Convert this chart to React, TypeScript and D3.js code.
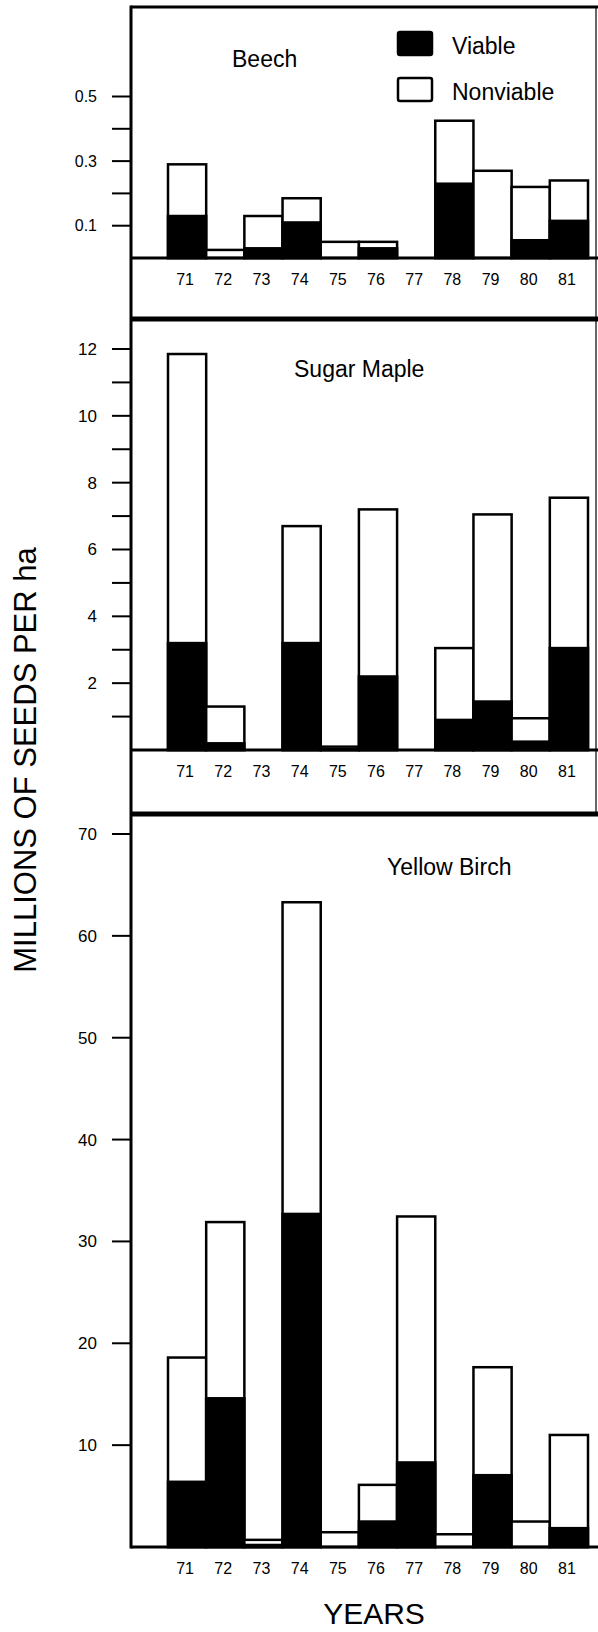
import React from 'react'
import * as d3 from 'd3'

// years on the x axis
const years = ["71", "72", "73", "74", "75", "76", "77", "78", "79", "80", "81"]

// millions of seeds per ha
const beechViable = [0.13, 0, 0.03, 0.11, 0, 0.03, 0, 0.23, 0, 0.055, 0.115]
const beechNonviable = [0.16, 0.025, 0.10, 0.075, 0.05, 0.02, 0, 0.195, 0.27, 0.165, 0.125]

const mapleViable = [3.2, 0.2, 0, 3.2, 0.03, 2.2, 0, 0.9, 1.45, 0.25, 3.05]
const mapleNonviable = [8.65, 1.1, 0, 3.5, 0.07, 5.0, 0, 2.15, 5.6, 0.7, 4.5]

const birchViable = [6.4, 14.6, 0.2, 32.7, 0, 2.5, 8.3, 0, 7.05, 0, 1.85]
const birchNonviable = [12.2, 17.3, 0.5, 30.6, 1.45, 3.6, 24.15, 1.25, 10.6, 2.5, 9.15]

const beechTicks = [0.1, 0.3, 0.5]
const beechMinor = [0.2, 0.4]
const mapleTicks = [2, 4, 6, 8, 10, 12]
const mapleMinor = [1, 3, 5, 7, 9, 11]
const birchTicks = [10, 20, 30, 40, 50, 60, 70]

const legendItems = ["Viable", "Nonviable"]

const font = "'Liberation Sans', Arial, Helvetica, sans-serif"

const W = 598
const H = 1632
const axisX = 131
const rightX = 596

const x = d3.scaleBand<string>().domain(years).range([168, 588]).padding(0)

type PanelProps = {
    title: string
    titleX: number
    titleY: number
    viable: number[]
    nonviable: number[]
    y: d3.ScaleLinear<number, number>
    ticks: number[]
    minor: number[]
    fmt: (d: number) => string
    tickSize: number
    top: number
    bottom: number | null
}

const Panel = (props: PanelProps) => {
    const { viable, nonviable, y } = props
    const base = y(0)
    const bars = years.map((yr, i) => ({ yr, v: viable[i], total: viable[i] + nonviable[i] }))

    return (
        <g>
            {/* frame */}
            <line x1={axisX} x2={rightX + 2} y1={props.top} y2={props.top} stroke="#000" strokeWidth={3} />
            {props.bottom !== null &&
                <line x1={axisX} x2={rightX + 2} y1={props.bottom} y2={props.bottom} stroke="#000" strokeWidth={3} />}
            {props.bottom !== null &&
                <line x1={rightX} x2={rightX} y1={props.top} y2={props.bottom} stroke="#000" strokeWidth={1.2} />}

            {/* bars */}
            {bars.filter(d => d.total > 0).map(d => (
                <g key={d.yr}>
                    <rect x={x(d.yr)!} y={y(d.total)} width={x.bandwidth()} height={base - y(d.total)}
                        fill="#fff" stroke="#000" strokeWidth={2.5} />
                    {d.v > 0 &&
                        <rect x={x(d.yr)!} y={y(d.v)} width={x.bandwidth()} height={base - y(d.v)}
                            fill="#000" stroke="#000" strokeWidth={2.5} />}
                </g>
            ))}

            {/* baseline */}
            <line x1={axisX} x2={rightX + 2} y1={base} y2={base} stroke="#000" strokeWidth={3} />

            {/* y ticks */}
            {props.ticks.map(t => (
                <g key={"t" + t}>
                    <line x1={112} x2={axisX} y1={y(t)} y2={y(t)} stroke="#000" strokeWidth={2} />
                    <text x={97} y={y(t)} dy="0.35em" textAnchor="end" fontSize={props.tickSize} fontFamily={font}>{props.fmt(t)}</text>
                </g>
            ))}
            {props.minor.map(t => (
                <line key={"m" + t} x1={112} x2={axisX} y1={y(t)} y2={y(t)} stroke="#000" strokeWidth={2} />
            ))}

            {/* year labels */}
            {years.map(yr => (
                <text key={yr} x={x(yr)! + x.bandwidth() / 2 - 2} y={base + 27} textAnchor="middle"
                    fontSize={16} fontFamily={font}>{yr}</text>
            ))}

            <text x={props.titleX} y={props.titleY} fontSize={23} fontFamily={font}>{props.title}</text>
        </g>
    )
}

const App = () => {
    const yBeech = d3.scaleLinear().domain([0, 0.5]).range([258, 96.5])
    const yMaple = d3.scaleLinear().domain([0, 12]).range([750, 349])
    const yBirch = d3.scaleLinear().domain([0, 70]).range([1547, 834])

    return (
        <svg width={W} height={H} style={{ position: 'absolute', left: 0, top: 0, background: '#fff' }}>
            <rect width={W} height={H} fill="#fff" />

            <Panel title="Beech" titleX={232} titleY={67} viable={beechViable} nonviable={beechNonviable}
                y={yBeech} ticks={beechTicks} minor={beechMinor} fmt={d3.format(".1f")} tickSize={16} top={7} bottom={318} />
            <Panel title="Sugar Maple" titleX={294} titleY={377} viable={mapleViable} nonviable={mapleNonviable}
                y={yMaple} ticks={mapleTicks} minor={mapleMinor} fmt={d3.format("d")} tickSize={17} top={320} bottom={813} />
            <Panel title="Yellow Birch" titleX={387} titleY={875} viable={birchViable} nonviable={birchNonviable}
                y={yBirch} ticks={birchTicks} minor={[]} fmt={d3.format("d")} tickSize={17} top={815} bottom={null} />

            {/* left axis line */}
            <line x1={axisX} x2={axisX} y1={5.5} y2={1548.5} stroke="#000" strokeWidth={3} />

            {/* legend */}
            {legendItems.map((name, i) => (
                <g key={name} transform={`translate(398, ${32 + i * 46})`}>
                    <rect x={0} y={0} width={34} height={23} rx={2}
                        fill={i === 0 ? "#000" : "#fff"} stroke="#000" strokeWidth={2.5} />
                    <text x={54} y={22} fontSize={23} fontFamily={font}>{name}</text>
                </g>
            ))}

            {/* axis titles */}
            <text transform="translate(36, 760) rotate(-90)" textAnchor="middle" fontSize={31} fontFamily={font}>
                MILLIONS OF SEEDS PER ha
            </text>
            <text x={374} y={1624} textAnchor="middle" fontSize={30} fontFamily={font}>YEARS</text>
        </svg>
    )
}

export default App
